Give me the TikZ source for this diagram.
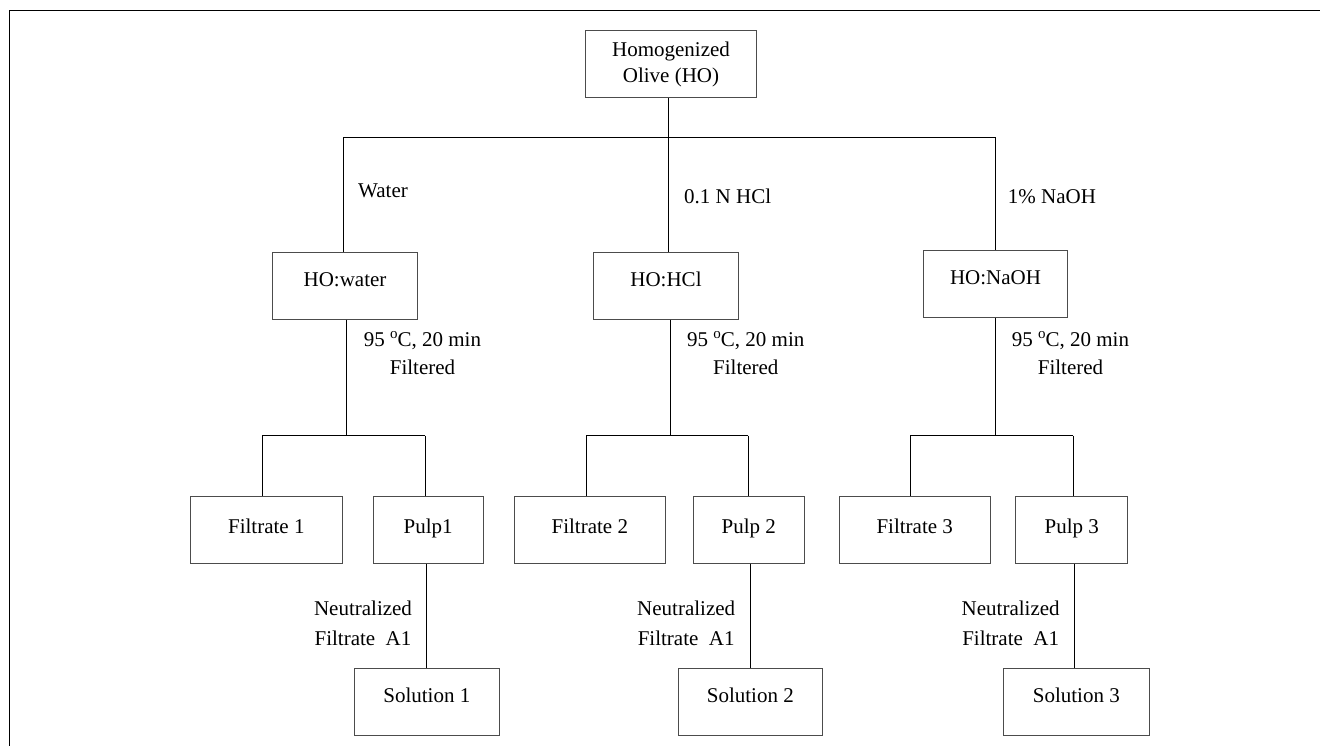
\documentclass[tikz,border=0pt]{standalone}
\usepackage{fontspec}
\setmainfont{Liberation Serif}
\newcommand{\degsup}{\raisebox{7.5pt}{\fontsize{15}{15}\selectfont o}}
\begin{document}
\begin{tikzpicture}[x=1pt,y=-1pt,
  box/.style={draw=black!70, line width=0.9pt, minimum height=67pt, inner sep=0pt,
    font=\fontsize{21}{26}\selectfont, align=center},
  sbox/.style={box, text height=14pt, text depth=7.2pt},
  hbox/.style={box, text height=14pt, text depth=13.2pt},
  conn/.style={draw=black, line width=1pt},
  frameline/.style={draw=black, line width=1.4pt},
  lbl/.style={font=\fontsize{21}{27.6}\selectfont, align=center, inner sep=0pt},
  nlbl/.style={font=\fontsize{21}{30}\selectfont, align=center, inner sep=0pt}]
\useasboundingbox (0,0) rectangle (1320,746);

% frame
\coordinate (fa) at (9.5,746);
\coordinate (fb) at (9.5,10.5);
\coordinate (fc) at (1320,10.5);
\draw[frameline] (fa) -- (fb) -- (fc);

% boxes
\node[box, minimum width=170.6pt] (top) at (671,64.2) {Homogenized\\Olive (HO)};
\node[hbox, minimum width=144.6pt] (water) at (345,285.8) {HO:water};
\node[hbox, minimum width=144.6pt] (hcl) at (666,285.6) {HO:HCl};
\node[hbox, minimum width=144.4pt] (naoh) at (995.5,283.7) {HO:NaOH};

\node[sbox, minimum width=152pt] (f1) at (266.3,529.7) {Filtrate 1};
\node[sbox, minimum width=110.3pt] (p1) at (428.2,529.7) {Pulp1};
\node[sbox, minimum width=151.7pt] (f2) at (589.8,529.7) {Filtrate 2};
\node[sbox, minimum width=111pt] (p2) at (748.8,529.7) {Pulp 2};
\node[sbox, minimum width=151.3pt] (f3) at (914.7,529.7) {Filtrate 3};
\node[sbox, minimum width=112pt] (p3) at (1071.7,529.7) {Pulp 3};

\node[hbox, minimum width=145pt, minimum height=66.7pt] (s1) at (426.8,701.7) {Solution 1};
\node[hbox, minimum width=144.7pt, minimum height=66.7pt] (s2) at (750.3,701.7) {Solution 2};
\node[hbox, minimum width=146.7pt, minimum height=66.7pt] (s3) at (1076.3,701.7) {Solution 3};

% top split
\coordinate (j0) at (668,137.7);
\coordinate (j0L) at (343.3,137.7);
\coordinate (j0R) at (995.5,137.7);
\draw[conn] (j0 |- top.south) -- (j0);
\draw[conn] (j0L) -- (j0R);
\draw[conn] (j0L) -- (j0L |- water.north);
\draw[conn] (j0) -- (j0 |- hcl.north);
\draw[conn] (j0R) -- (j0R |- naoh.north);

% branch 1
\coordinate (j1) at (346.7,435.7);
\coordinate (j1L) at (262.3,435.7);
\coordinate (j1R) at (425.3,435.7);
\draw[conn] (j1 |- water.south) -- (j1);
\draw[conn] (j1L) -- (j1R);
\draw[conn] (j1L) -- (j1L |- f1.north);
\draw[conn] (j1R) -- (j1R |- p1.north);

% branch 2
\coordinate (j2) at (670.3,435.7);
\coordinate (j2L) at (586,435.7);
\coordinate (j2R) at (748.3,435.7);
\draw[conn] (j2 |- hcl.south) -- (j2);
\draw[conn] (j2L) -- (j2R);
\draw[conn] (j2L) -- (j2L |- f2.north);
\draw[conn] (j2R) -- (j2R |- p2.north);

% branch 3
\coordinate (j3) at (995,435.7);
\coordinate (j3L) at (910.3,435.7);
\coordinate (j3R) at (1073.3,435.7);
\draw[conn] (j3 |- naoh.south) -- (j3);
\draw[conn] (j3L) -- (j3R);
\draw[conn] (j3L) -- (j3L |- f3.north);
\draw[conn] (j3R) -- (j3R |- p3.north);

% pulp -> solution
\coordinate (k1) at (426,600);
\coordinate (k2) at (750,600);
\coordinate (k3) at (1074.3,600);
\draw[conn] (k1 |- p1.south) -- (k1 |- s1.north);
\draw[conn] (k2 |- p2.south) -- (k2 |- s2.north);
\draw[conn] (k3 |- p3.south) -- (k3 |- s3.north);

% labels
\node[lbl, anchor=base west] (lw) at (358,197.3) {Water};
\node[lbl, anchor=base west] (lh) at (684,203.3) {0.1 N HCl};
\node[lbl, anchor=base west] (ln) at (1007.7,203.3) {1\% NaOH};

\node[lbl, anchor=north] (t1) at (422.5,331.7) {95 \degsup C, 20 min\\Filtered};
\node[lbl, anchor=north] (t2) at (745.8,331.7) {95 \degsup C, 20 min\\Filtered};
\node[lbl, anchor=north] (t3) at (1070.5,331.7) {95 \degsup C, 20 min\\Filtered};

\node[nlbl, anchor=north] (n1) at (363,600.5) {Neutralized\\Filtrate\ \ A1};
\node[nlbl, anchor=north] (n2) at (686.2,600.5) {Neutralized\\Filtrate\ \ A1};
\node[nlbl, anchor=north] (n3) at (1010.7,600.5) {Neutralized\\Filtrate\ \ A1};
\end{tikzpicture}
\end{document}
